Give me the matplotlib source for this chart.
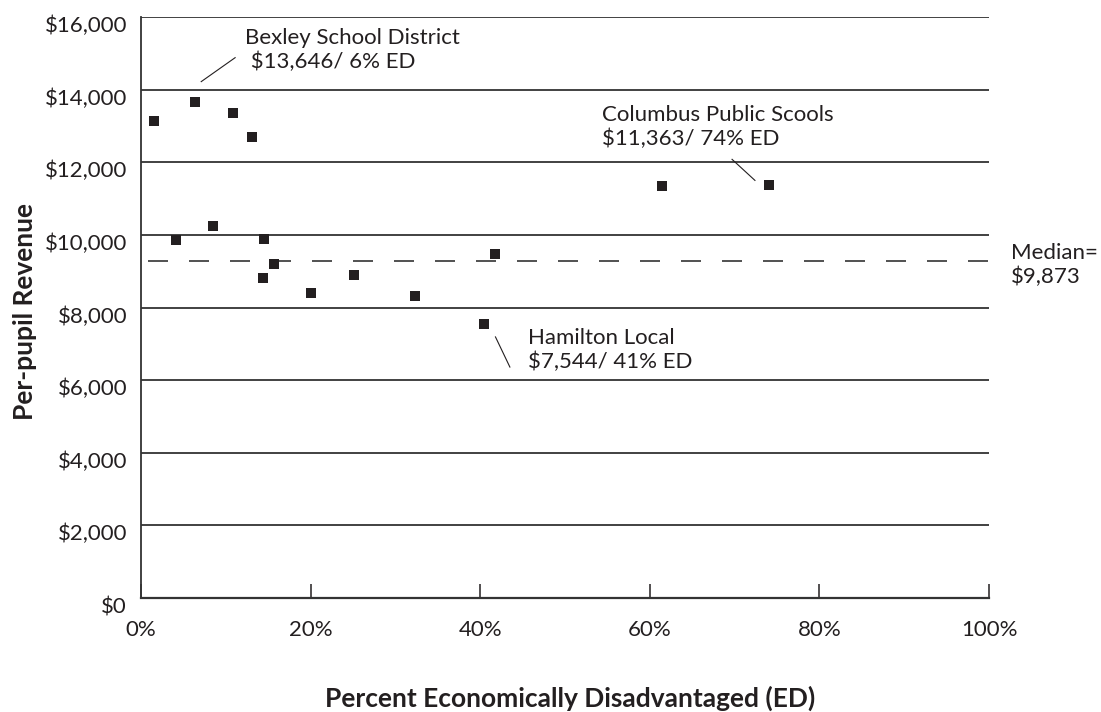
import matplotlib

matplotlib.use("Agg")
import matplotlib.pyplot as plt
import matplotlib.transforms as mtransforms
from matplotlib.ticker import FuncFormatter

# Percent economically disadvantaged (ED) vs per-pupil revenue, by district
pct_ed = [1.5, 6.4, 10.8, 13.1, 4.1, 8.5, 14.5, 15.7, 14.4, 20.0, 25.1, 32.3,
          41.7, 40.5, 61.4, 74.0]
revenue = [13140, 13646, 13360, 12700, 9850, 10250, 9880, 9210, 8800, 8410,
           8900, 8330, 9460, 7544, 11343, 11363]

median_line = 9270
median_label = "Median=\n$9,873"

annotations = [
    # (text, text x, text y, line start x, line start y, line end x, line end y)
    ("Bexley School District\n $13,646/ 6% ED", 12.3, 15090, 7.1, 14220, 11.1, 14880),
    ("Columbus Public Scools\n$11,363/ 74% ED", 54.4, 12970, 69.7, 12080, 72.4, 11500),
    ("Hamilton Local\n$7,544/ 41% ED", 45.6, 6820, 41.8, 7190, 43.5, 6360),
]

x_ticks = [0, 20, 40, 60, 80, 100]
y_ticks = list(range(0, 16001, 2000))

INK = "#231f20"
FONT = ["Lato", "DejaVu Sans"]

plt.rcParams.update({
    "font.family": FONT,
    "text.color": INK,
    "axes.labelcolor": INK,
    "xtick.color": INK,
    "ytick.color": INK,
})

fig = plt.figure(figsize=(11.01, 7.12), dpi=100)
ax = fig.add_axes([141 / 1101, 1 - 598 / 712, 848 / 1101, 581 / 712])

for yv in y_ticks[1:]:
    ax.axhline(yv, color="#333333", lw=1.3, zorder=1)

ax.axhline(median_line, xmin=0.008, xmax=1.0, color="#333333", lw=1.2,
           dashes=(12, 12.6), zorder=1)

ax.scatter(pct_ed, revenue, marker="s", s=62, color=INK, linewidths=0,
           zorder=3)

for text, tx, ty, x0, y0, x1, y1 in annotations:
    ax.text(tx, ty, text, fontsize=16, va="center", ha="left",
            linespacing=1.23)
    ax.plot([x0, x1], [y0, y1], color=INK, lw=0.8, zorder=2)

ax.text(102.6, median_line - 110, median_label, fontsize=16, va="center",
        ha="left", linespacing=1.23, clip_on=False)

ax.set_xlim(0, 100)
ax.set_ylim(0, 16000)
ax.set_xticks(x_ticks)
ax.set_yticks(y_ticks)
ax.xaxis.set_major_formatter(FuncFormatter(lambda v, _: f"{v:.0f}%"))
ax.yaxis.set_major_formatter(FuncFormatter(lambda v, _: f"${v:,.0f}"))
ax.tick_params(axis="x", direction="in", length=10, width=1.1, pad=16,
               labelsize=16)
ax.tick_params(axis="y", length=0, pad=10, labelsize=16)

# y labels sit a little below their gridlines in the original
shift = mtransforms.ScaledTranslation(0, -0.07, fig.dpi_scale_trans)
for lab in ax.get_yticklabels():
    lab.set_transform(lab.get_transform() + shift)

for side in ("top", "right"):
    ax.spines[side].set_visible(False)
ax.spines["left"].set_linewidth(1.3)
ax.spines["bottom"].set_linewidth(1.6)
ax.spines["left"].set_color("#333333")
ax.spines["bottom"].set_color("#333333")

fig.text(570 / 1101, 1 - 707 / 712, "Percent Economically Disadvantaged (ED)",
         fontsize=19, fontweight="bold", ha="center", va="baseline")
fig.text(33 / 1101, 1 - 312 / 712, "Per-pupil Revenue", fontsize=19,
         fontweight="bold", rotation=90, rotation_mode="anchor",
         ha="center", va="baseline")

fig.savefig("out.png", dpi=100)
